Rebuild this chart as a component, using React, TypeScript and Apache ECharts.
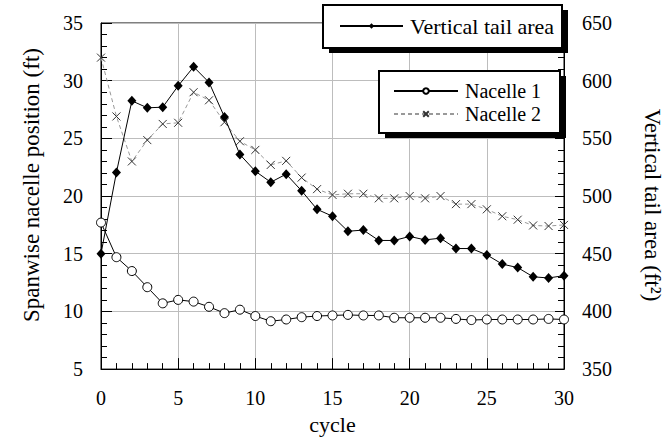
import React, { useEffect, useRef } from "react";
import * as echarts from "echarts";

const cycles = Array.from({ length: 31 }, (_, i) => i);
const nacelle1 = [17.7, 14.7, 13.5, 12.1, 10.7, 11.0, 10.85, 10.4, 9.85, 10.15, 9.6, 9.15, 9.3, 9.5, 9.6, 9.65, 9.7, 9.65, 9.65, 9.45, 9.45, 9.45, 9.45, 9.35, 9.25, 9.3, 9.3, 9.3, 9.3, 9.35, 9.3];
const nacelle2 = [32.0, 26.9, 23.0, 24.85, 26.25, 26.35, 29.0, 28.3, 26.4, 24.75, 24.0, 22.7, 23.05, 21.6, 20.6, 20.1, 20.2, 20.2, 19.8, 19.8, 20.0, 19.8, 20.0, 19.3, 19.3, 18.85, 18.25, 17.95, 17.45, 17.4, 17.5];
const tailArea = [450, 520.5, 582.5, 576.5, 577, 595.5, 612, 598.5, 568.5, 536, 521.5, 512, 519, 504.5, 488.5, 482.5, 469.5, 470.5, 461.5, 461.5, 465, 462, 463.5, 454.5, 454.5, 449, 441, 438, 430, 429, 431];

const FONT = '"Liberation Serif", "Times New Roman", serif';
const CROSS = "path://M0,0L10,10M10,0L0,10";

function boxWithShadow(x: number, y: number, w: number, h: number) {
  return [
    { type: "rect", z: 1, silent: true, shape: { x: x + 6, y: y + 5, width: w, height: h }, style: { fill: "#000" } },
    { type: "rect", z: 2, silent: true, shape: { x, y, width: w, height: h }, style: { fill: "#fff", stroke: "#000", lineWidth: 2 } },
  ];
}

export default function App() {
  const ref = useRef<HTMLDivElement>(null);
  useEffect(() => {
    if (!ref.current) return;
    const chart = echarts.init(ref.current, null, { renderer: "svg" });
    const legendBase = {
      itemHeight: 7,
      padding: 0,
      inactiveColor: "#000",
      selectedMode: false,
      z: 10,
    };
    chart.setOption({
      animation: false,
      grid: { left: 101, right: 98, top: 23, bottom: 63, show: true, borderColor: "#000", borderWidth: 1 },
      graphic: [...boxWithShadow(323, 5, 239, 43), ...boxWithShadow(379, 71, 181, 62)],
      legend: [
        {
          ...legendBase,
          data: ["Vertical tail area"],
          left: 339,
          top: 15,
          orient: "horizontal",
          itemWidth: 63,
          itemGap: 0,
          textStyle: { fontFamily: FONT, fontSize: 22, color: "#000", lineHeight: 22, padding: [0, 0, 0, 2] },
        },
        {
          ...legendBase,
          data: ["Nacelle 1", "Nacelle 2"],
          left: 393,
          top: 81,
          orient: "vertical",
          itemWidth: 64,
          itemGap: 3,
          textStyle: { fontFamily: FONT, fontSize: 20, color: "#000", lineHeight: 20, padding: [0, 0, 0, 2] },
        },
      ],
      xAxis: {
        type: "value",
        min: 0,
        max: 30,
        interval: 5,
        name: "cycle",
        nameLocation: "middle",
        nameGap: 33,
        nameTextStyle: { fontFamily: FONT, fontSize: 22, color: "#000" },
        axisLine: { lineStyle: { color: "#000", width: 1 } },
        axisTick: { inside: true, length: 11, lineStyle: { color: "#000" } },
        minorTick: { show: true, splitNumber: 5, length: 6, lineStyle: { color: "#000" } },
        axisLabel: { fontFamily: FONT, fontSize: 20, color: "#000", margin: 19 },
        splitLine: { show: true, lineStyle: { color: "#bdbdbd", width: 1 } },
      },
      yAxis: [
        {
          type: "value",
          min: 5,
          max: 35,
          interval: 5,
          position: "left",
          name: "Spanwise nacelle position (ft)",
          nameLocation: "middle",
          nameRotate: 90,
          nameGap: 58,
          nameTextStyle: { fontFamily: FONT, fontSize: 23, color: "#000", padding: [0, 0, 0, 22] },
          axisLine: { show: true, lineStyle: { color: "#000", width: 1 } },
          axisTick: { show: true, inside: true, length: 11, lineStyle: { color: "#000" } },
          minorTick: { show: true, splitNumber: 5, length: 6, lineStyle: { color: "#000" } },
          axisLabel: { fontFamily: FONT, fontSize: 20, color: "#000", margin: 18 },
          splitLine: { show: true, lineStyle: { color: "#bdbdbd", width: 1 } },
        },
        {
          type: "value",
          min: 350,
          max: 650,
          interval: 50,
          position: "right",
          name: "Vertical tail area (ft²)",
          nameLocation: "middle",
          nameRotate: -90,
          nameGap: 77,
          nameTextStyle: { fontFamily: FONT, fontSize: 23, color: "#000", padding: [0, 0, 0, 18] },
          axisLine: { show: true, lineStyle: { color: "#000", width: 1 } },
          axisTick: { show: true, inside: true, length: 9, lineStyle: { color: "#000" } },
          minorTick: { show: true, splitNumber: 5, length: 6, lineStyle: { color: "#000" } },
          axisLabel: { fontFamily: FONT, fontSize: 20, color: "#000", margin: 18 },
          splitLine: { show: false },
        },
      ],
      series: [
        {
          name: "Vertical tail area",
          type: "line",
          yAxisIndex: 1,
          data: cycles.map((c, i) => [c, tailArea[i]]),
          symbol: "diamond",
          symbolSize: [9, 10],
          lineStyle: { color: "#000", width: 1 },
          itemStyle: { color: "#000" },
          z: 4,
        },
        {
          name: "Nacelle 1",
          type: "line",
          yAxisIndex: 0,
          data: cycles.map((c, i) => [c, nacelle1[i]]),
          symbol: "circle",
          symbolSize: 9,
          lineStyle: { color: "#000", width: 1 },
          itemStyle: { color: "#fff", borderColor: "#000", borderWidth: 1 },
          z: 3,
        },
        {
          name: "Nacelle 2",
          type: "line",
          yAxisIndex: 0,
          data: cycles.map((c, i) => [c, nacelle2[i]]),
          symbol: CROSS,
          symbolSize: 8,
          lineStyle: { color: "#999", width: 1, type: [4, 3] },
          itemStyle: { color: "none", borderColor: "#333", borderWidth: 1 },
          z: 3,
        },
      ],
    });
    return () => chart.dispose();
  }, []);
  return (
    <div
      ref={ref}
      style={{ position: "fixed", left: 0, top: 0, width: 672, height: 440, background: "#fff" }}
    />
  );
}
